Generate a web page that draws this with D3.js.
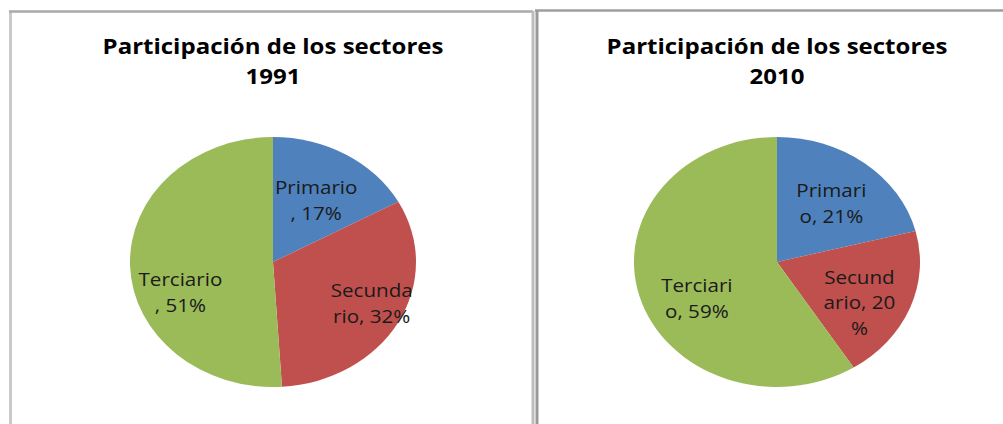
<!DOCTYPE html>
<html>
<head>
<meta charset="utf-8">
<script src="https://cdn.jsdelivr.net/npm/d3@7"></script>
<style>
  body { margin: 0; background: #fff; }
  svg { display: block; }
</style>
</head>
<body>
<svg id="chart" width="1003" height="424"></svg>
<script>
// data
let sectores = ['Primario', 'Secundario', 'Terciario'];
let anios = ['1991', '2010'];
let valores1991 = [17, 32, 51];
let valores2010 = [21, 20, 59];
// how the labels wrap in the original
let etiquetas1991 = [['Primario', ', 17%'], ['Secunda', 'rio, 32%'], ['Terciario', ', 51%']];
let etiquetas2010 = [['Primari', 'o, 21%'], ['Secund', 'ario, 20', '%'], ['Terciari', 'o, 59%']];
let colores = ['#4F81BD', '#C0504D', '#9BBB59'];

let width = 1003;
let height = 424;
// the original picture is stretched sideways a bit
let sx = 1.144;
let radius = 125;

let svg = d3.select('#chart');

// panel borders
let borders = svg.append('g');
borders.append('line').attr('x1', 10.5).attr('y1', 11).attr('x2', 10.5).attr('y2', height)
    .attr('stroke', '#c9c9c9').attr('stroke-width', 3);
borders.append('line').attr('x1', 9).attr('y1', 11.5).attr('x2', 533).attr('y2', 11.5)
    .attr('stroke', '#a9a9a9').attr('stroke-width', 2.5);
borders.append('line').attr('x1', 533).attr('y1', 11).attr('x2', 533).attr('y2', height)
    .attr('stroke', '#bdbdbd').attr('stroke-width', 3);
borders.append('line').attr('x1', 535).attr('y1', 10.5).attr('x2', width).attr('y2', 10.5)
    .attr('stroke', '#9e9e9e').attr('stroke-width', 2.5);
borders.append('line').attr('x1', 537).attr('y1', 10).attr('x2', 537).attr('y2', height)
    .attr('stroke', '#9a9a9a').attr('stroke-width', 3);

let panels = [
    { anio: anios[0], valores: valores1991, etiquetas: etiquetas1991, cx: 273, cy: 262 },
    { anio: anios[1], valores: valores2010, etiquetas: etiquetas2010, cx: 777, cy: 262 }
];

// small nudges so labels sit where the original put them (real px)
let labelShift = {
    '1991': [[-2, 5], [21, 4], [-4, 28]],
    '2010': [[0, 3], [0, 12], [5, 15]]
};

let pie = d3.pie().value(d => d).sort(null);
let arc = d3.arc().innerRadius(0).outerRadius(radius);
let labelArc = d3.arc().innerRadius(radius * 0.62).outerRadius(radius * 0.62);

panels.forEach(function (p) {
    // everything inside is drawn in unstretched units, then scaled
    let g = svg.append('g')
        .attr('transform', 'scale(' + sx + ',1)');

    let title = g.append('text')
        .attr('x', p.cx / sx)
        .attr('text-anchor', 'middle')
        .attr('font-family', 'Open Sans')
        .attr('font-weight', 'bold')
        .attr('font-size', '21px')
        .attr('fill', '#000');
    title.append('tspan').attr('x', p.cx / sx).attr('y', 54).text('Participación de los sectores');
    title.append('tspan').attr('x', p.cx / sx).attr('y', 84).text(p.anio);

    let pieData = pie(p.valores);

    let slices = g.append('g')
        .attr('transform', 'translate(' + p.cx / sx + ',' + p.cy + ')');

    slices.selectAll('path')
        .data(pieData)
        .join('path')
        .attr('d', arc)
        .attr('fill', (d, i) => colores[i]);

    slices.selectAll('text')
        .data(pieData)
        .join('text')
        .attr('transform', function (d, i) {
            let c = labelArc.centroid(d);
            let s = labelShift[p.anio][i];
            return 'translate(' + (c[0] + s[0] / sx) + ',' + (c[1] + s[1]) + ')';
        })
        .attr('text-anchor', 'middle')
        .attr('font-family', 'Open Sans')
        .attr('font-size', '18px')
        .attr('fill', '#1a1a1a')
        .each(function (d, i) {
            let lines = p.etiquetas[i];
            let lh = 25.5;
            let t = d3.select(this);
            lines.forEach(function (line, j) {
                t.append('tspan')
                    .attr('x', 0)
                    .attr('y', (j - (lines.length - 1) / 2) * lh)
                    .attr('dy', '0.36em')
                    .text(line);
            });
        });
});
</script>
</body>
</html>
